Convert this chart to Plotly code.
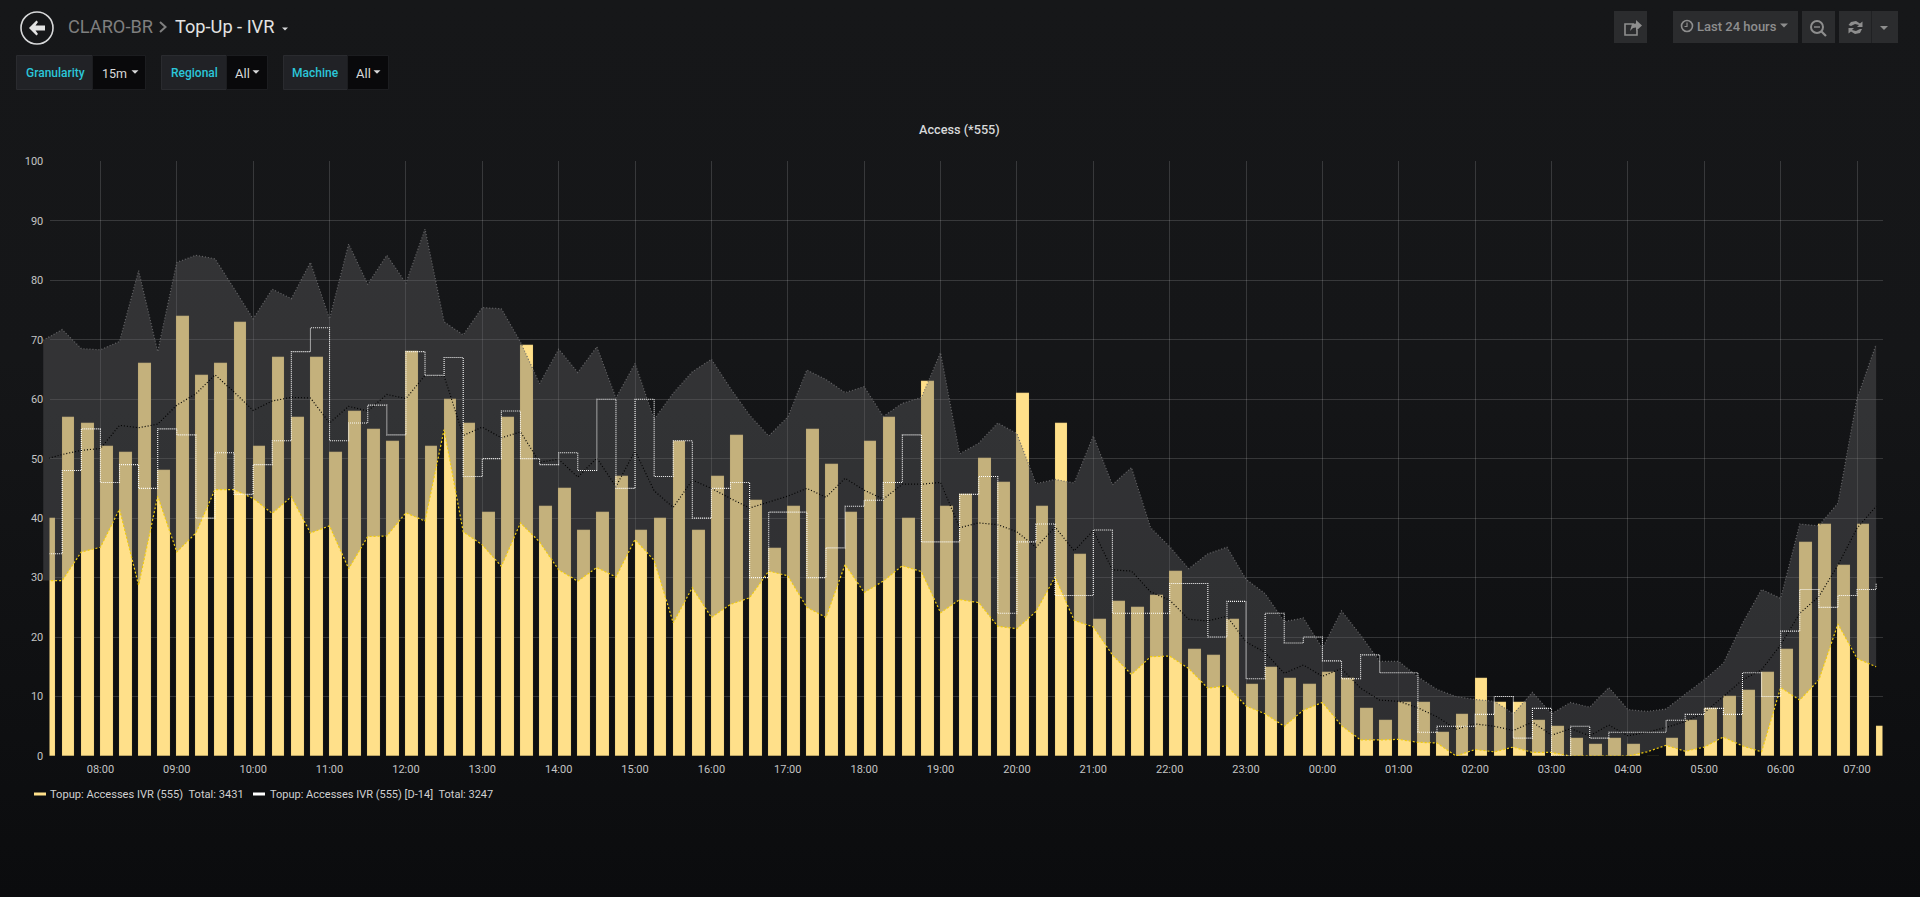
import pandas as pd
import plotly.graph_objects as go

W = 1920
H = 897

times = pd.date_range("2018-06-10 07:15", "2018-06-11 07:15", freq="15min")

accesses = [
    40, 57, 56, 52, 51, 66, 48, 74, 64, 66, 73, 52, 67, 57, 67, 51, 58, 55, 53, 68,
    52, 60, 56, 41, 57, 69, 42, 45, 38, 41, 47, 38, 40, 53, 38, 47, 54, 43, 35, 42,
    55, 49, 41, 53, 57, 40, 63, 42, 44, 50, 46, 61, 42, 56, 34, 23, 26, 25, 27, 31,
    18, 17, 23, 12, 15, 13, 12, 14, 13, 8, 6, 9, 9, 4, 7, 13, 9, 9, 6, 5,
    3, 2, 3, 2, 0, 3, 6, 8, 10, 11, 14, 18, 36, 39, 32, 39, 5,
]
accesses_d14 = [
    34, 48, 55, 46, 49, 45, 55, 54, 40, 51, 44, 49, 53, 68, 72, 53, 56, 59, 54, 68,
    64, 67, 47, 50, 58, 50, 49, 51, 48, 60, 45, 60, 47, 53, 40, 45, 46, 30, 41, 41,
    30, 35, 42, 43, 46, 54, 36, 36, 44, 47, 24, 36, 39, 27, 27, 38, 24, 24, 24, 29,
    29, 20, 26, 13, 24, 19, 20, 16, 13, 17, 14, 14, 4, 5, 5, 7, 10, 3, 8, 0,
    5, 3, 4, 4, 4, 6, 7, 8, 7, 14, 10, 21, 28, 25, 27, 28, 29,
]
band_upper = [
    69.9, 71.7, 68.5, 68.3, 69.7, 81.6, 68, 83, 84.2, 83.6, 78.6, 73.5, 78.5, 76.9, 83, 73.5,
    86.1, 79.3, 84.2, 79.5, 88.6, 73, 70.8, 75.4, 75.2, 69.6, 62.6, 68.4, 64.5, 68.8, 60.2, 66,
    56.6, 61, 64.6, 66.7, 61.8, 57.3, 53.8, 57, 64.9, 63.3, 61.1, 62.1, 57.1, 59.3, 60.3, 67.8,
    50.8, 52.6, 56, 54.2, 45.8, 46.5, 45.9, 53.8, 45.6, 48.5, 38.4, 35.2, 31.5, 34, 35.1, 29.7,
    27.3, 22.6, 23.2, 18.1, 24.4, 20.3, 15.9, 15.9, 13.3, 11.2, 10, 9.5, 9.2, 7.1, 10.7, 7.1,
    9, 8.2, 11.5, 7.8, 7.5, 7.9, 10.4, 12.8, 15.6, 22.3, 28, 26.5, 39, 38.7, 42.5, 60.1, 69.2,
]
band_lower = [
    29.5, 29.5, 34.3, 35.1, 41.5, 28.7, 43.7, 34.3, 37.5, 44.8, 44.8, 43.3, 40.8, 43.6, 37.5, 38.7,
    31.5, 36.9, 37, 40.9, 39.5, 54.9, 37.7, 35.5, 31.9, 39.2, 36, 31.3, 29.4, 31.7, 30.1, 36.4,
    32.9, 22.4, 28.3, 23.3, 25.5, 26.6, 31.1, 30.3, 25, 23.3, 32.2, 27.5, 29.4, 32, 31, 24.1,
    26.3, 25.8, 21.8, 21.4, 24.3, 30.1, 22.8, 21.7, 17, 13.7, 16.7, 16.8, 14.7, 11.4, 11.8, 8.4,
    7.1, 5, 7.7, 9, 5.1, 2.7, 2.7, 2.8, 2.3, 2.2, 0, 1.1, 0.7, 1.5, 0.6, 0.6,
    0, 0, 0, 0, 0.7, 1.8, 0.8, 1.5, 3.2, 1.7, 0.7, 11.5, 9.4, 12.8, 22.2, 16.4, 15,
]
band_mean = [
    49.8, 50.7, 51.4, 51.7, 55.6, 55.2, 55.8, 59, 60.9, 64.1, 61.2, 58.1, 59.7, 60.3, 60.2, 56,
    58.8, 58, 60.8, 60.1, 64, 63.9, 53.9, 55.3, 53.5, 54.5, 49.4, 49.9, 46.9, 50.1, 45.3, 51.3,
    44.6, 41.8, 46.4, 45, 43.3, 41.7, 42.7, 43.7, 45, 43.5, 46.7, 44.7, 43.2, 45.7, 45.7, 46,
    38.4, 39.2, 38.9, 37.7, 35.1, 38.5, 34.5, 37.9, 31.3, 31.1, 27.6, 26.2, 23, 22.7, 23.5, 19.2,
    17.4, 13.9, 15.3, 13.4, 14.7, 11.4, 9.4, 9.2, 8.1, 6.6, 4.5, 5.4, 5, 4.3, 5.7, 3.5,
    4.6, 3.4, 5.2, 3.4, 4, 4.8, 5.8, 7.3, 10, 12.8, 14.5, 18.7, 24, 26.8, 32.1, 38.3, 42,
]

total_now = "Topup: Accesses IVR (555)  Total: 3431"
total_d14 = "Topup: Accesses IVR (555) [D-14]  Total: 3247"

YELLOW = "#ffe08a"
PANEL = "#2b2c2e"
TEAL = "#2bc6d9"


def px(x):
    return x / W


def py(y):
    return 1 - y / H


def box(x0, y0, x1, y1, fill, line="rgba(0,0,0,0)"):
    return dict(type="rect", xref="paper", yref="paper", x0=px(x0), x1=px(x1), y0=py(y0), y1=py(y1),
                fillcolor=fill, line=dict(color=line, width=1), layer="below")


def path(points, fill="rgba(0,0,0,0)", line="rgba(0,0,0,0)", width=1, close=True):
    d = "M " + " L ".join(f"{px(a):.5f},{py(b):.5f}" for a, b in points) + (" Z" if close else "")
    return dict(type="path", xref="paper", yref="paper", path=d, fillcolor=fill,
                line=dict(color=line, width=width), layer="above")


def caret(x, y, size, color):
    return path([(x - size, y - size / 2), (x + size, y - size / 2), (x, y + size / 2)], fill=color)


def ring(cx, cy, r, line, width, fill="rgba(0,0,0,0)"):
    return dict(type="circle", xref="paper", yref="paper", x0=px(cx - r), x1=px(cx + r), y0=py(cy - r), y1=py(cy + r),
                fillcolor=fill, line=dict(color=line, width=width), layer="above")


def label(x, y, text, size, color, anchor="left", weight=400):
    return dict(xref="paper", yref="paper", x=px(x), y=py(y), text=text, showarrow=False,
                xanchor=anchor, yanchor="middle", borderpad=0,
                font=dict(family="Roboto", size=size, color=color, weight=weight))


fig = go.Figure()

fig.add_trace(go.Bar(x=times, y=accesses, width=600000, offset=0, xaxis="x", yaxis="y",
                     marker=dict(color=YELLOW, line=dict(color="rgba(120,105,60,0.15)", width=1)),
                     hoverinfo="skip"))

fig.add_trace(go.Scatter(x=times, y=band_lower, mode="lines", xaxis="x2", yaxis="y2",
                         line=dict(width=0), hoverinfo="skip"))
fig.add_trace(go.Scatter(x=times, y=band_upper, mode="lines", xaxis="x2", yaxis="y2",
                         fill="tonexty", fillcolor="rgba(100,100,102,0.38)",
                         line=dict(color="#666668", width=1.2, dash="1px,2px"), hoverinfo="skip"))

fig.add_trace(go.Scatter(x=times, y=band_mean, mode="lines", xaxis="x3", yaxis="y3",
                         line=dict(color="#000000", width=1.2, dash="1px,2px"), hoverinfo="skip"))
fig.add_trace(go.Scatter(x=times, y=band_lower, mode="lines", xaxis="x3", yaxis="y3",
                         line=dict(color="#f2cc0c", width=1.2, dash="2px,2px"), hoverinfo="skip"))
fig.add_trace(go.Scatter(x=times, y=accesses_d14, mode="lines", xaxis="x3", yaxis="y3",
                         line=dict(color="#ffffff", width=1.1, dash="1px,1px", shape="hv"), hoverinfo="skip"))

x_start = pd.Timestamp("2018-06-10 07:20")
x_end = pd.Timestamp("2018-06-11 07:20")
plot_left = 49.5
plot_right = 1882.5
plot_top = 161.3
plot_bottom = 756
px_per_hour = (plot_right - plot_left) / 24
band_left = plot_left - px_per_hour / 12

plot_domain_x = [px(plot_left), px(plot_right)]
plot_domain_y = [py(plot_bottom), py(plot_top)]
hidden = dict(visible=False, showgrid=False, zeroline=False, fixedrange=True)
GRID = "rgba(255,255,255,0.15)"

shapes = [
    # back button
    ring(37, 28, 16, "#d8d9da", 1.6),
    path([(29, 28), (36.5, 20.5), (38, 22), (35.5, 25.5), (45, 25.5), (45, 30.5), (35.5, 30.5), (38, 34), (36.5, 35.5)],
         fill="#e3e3e3"),
    path([(160, 22), (165.5, 27), (160, 32)], line="#7f7f7f", width=2, close=False),
    caret(285, 29, 3, "#d8d9da"),
    # variable boxes
    box(16.5, 55.5, 92.5, 89.5, "#212226", "#2a2b2f"),
    box(92.5, 55.5, 145.5, 89.5, "#09090b", "#1c1d20"),
    box(161.5, 55.5, 226.5, 89.5, "#212226", "#2a2b2f"),
    box(226.5, 55.5, 267.5, 89.5, "#09090b", "#1c1d20"),
    box(283.5, 55.5, 347.5, 89.5, "#212226", "#2a2b2f"),
    box(347.5, 55.5, 388.5, 89.5, "#09090b", "#1c1d20"),
    caret(135, 72, 3.5, "#d8d9da"),
    caret(256, 72, 3.5, "#d8d9da"),
    caret(377, 72, 3.5, "#d8d9da"),
    # top right buttons
    box(1614, 11, 1647, 43, PANEL),
    box(1673, 11, 1798, 43, PANEL),
    box(1802, 11, 1835, 43, PANEL),
    box(1839, 11, 1871, 43, PANEL),
    box(1871.5, 11, 1898, 43, PANEL),
    path([(1634, 24), (1625, 24), (1625, 35), (1637, 35), (1637, 30)], line="#8e8e8e", width=1.6, close=False),
    path([(1630, 31), (1632, 24), (1636, 23.5), (1636, 20), (1642, 25.5), (1636, 31), (1636, 27.5), (1633, 28)], fill="#8e8e8e"),
    ring(1687, 26, 5.5, "#8e8e8e", 1.6),
    path([(1687, 22.5), (1687, 26.5), (1684.5, 26.5)], line="#8e8e8e", width=1.2, close=False),
    caret(1784, 25.5, 4, "#8e8e8e"),
    ring(1817, 27, 6, "#8e8e8e", 2),
    path([(1814, 27), (1820, 27)], line="#8e8e8e", width=1.4, close=False),
    path([(1821.5, 31.5), (1826, 36)], line="#8e8e8e", width=2.2, close=False),
    path([(1848.5, 25), (1851, 22), (1856, 21), (1860, 23.5), (1862.5, 21.5), (1862.5, 27), (1857, 27), (1859, 25), (1855, 24), (1851, 26)],
         fill="#8e8e8e"),
    path([(1862, 29), (1860, 33), (1855, 34), (1851, 31.5), (1848.5, 33.5), (1848.5, 28), (1854, 28), (1852, 30), (1856, 31), (1860, 29)],
         fill="#8e8e8e"),
    caret(1884, 28, 4, "#8e8e8e"),
    # legend swatches
    box(34, 792.5, 46, 795.5, YELLOW),
    box(253, 792.5, 265, 795.5, "#ffffff"),
]

annotations = [
    label(66.5, 27, "CLARO-BR", 18.2, "#7f7f7f"),
    label(174, 27, "Top-Up - IVR", 18.2, "#e3e3e3"),
    label(24.5, 73, "Granularity", 12, TEAL, weight=500),
    label(100.5, 73, "15m", 12.5, "#d8d9da"),
    label(169.5, 73, "Regional", 12, TEAL, weight=500),
    label(234, 73, "All", 13, "#d8d9da"),
    label(291, 73, "Machine", 12, TEAL, weight=500),
    label(355, 73, "All", 13, "#d8d9da"),
    label(1696, 26.5, "Last 24 hours", 13, "#8e8e8e", weight=500),
    label(959.5, 129.5, "Access (*555)", 12.7, "#d8d9da", anchor="center", weight=500),
    label(48.5, 794, total_now.replace("  ", "&nbsp;&nbsp;"), 11.1, "#d0d0d0"),
    label(269, 794, total_d14.replace("  ", "&nbsp;&nbsp;"), 11, "#d0d0d0"),
]

fig.update_layout(
    width=W,
    height=H,
    autosize=False,
    margin=dict(l=0, r=0, t=0, b=0, pad=0),
    paper_bgcolor="rgba(0,0,0,0)",
    plot_bgcolor="rgba(0,0,0,0)",
    showlegend=False,
    bargap=0,
    hovermode=False,
    shapes=shapes,
    annotations=annotations,
    font=dict(family="Roboto", size=11, color="#c4c4c4"),
    xaxis=dict(domain=plot_domain_x, anchor="y", range=[x_start, x_end], type="date",
               dtick=3600000, tick0="2018-06-10 08:00", tickformat="%H:%M",
               showgrid=True, gridcolor=GRID, gridwidth=1, zeroline=False, showline=False,
               ticks="outside", ticklen=3, tickcolor="rgba(0,0,0,0)",
               tickfont=dict(family="Roboto", size=11, color="#c4c4c4"), automargin=False),
    yaxis=dict(domain=plot_domain_y, anchor="x", range=[0, 100], dtick=10,
               showgrid=True, gridcolor=GRID, gridwidth=1, zeroline=False, showline=False,
               ticks="outside", ticklen=3, tickcolor="rgba(0,0,0,0)",
               tickfont=dict(family="Roboto", size=11, color="#c4c4c4"), automargin=False),
    xaxis2=dict(domain=[px(band_left), px(plot_right)], anchor="y2", type="date",
                range=[pd.Timestamp("2018-06-10 07:15"), x_end], **hidden),
    yaxis2=dict(domain=plot_domain_y, anchor="x2", range=[0, 100], **hidden),
    xaxis3=dict(domain=plot_domain_x, anchor="y3", type="date", range=[x_start, x_end], **hidden),
    yaxis3=dict(domain=plot_domain_y, anchor="x3", range=[0, 100], **hidden),
)

page_style = (
    "document.documentElement.style.height='100%';"
    "document.body.style.margin='0';"
    "document.body.style.minHeight='100%';"
    "document.body.style.overflow='hidden';"
    "document.body.style.background='linear-gradient(#161719 0%, #151618 40%, #0b0c0e 100%)';"
)

fig.write_html("out.html", config={"displayModeBar": False}, post_script=page_style)
